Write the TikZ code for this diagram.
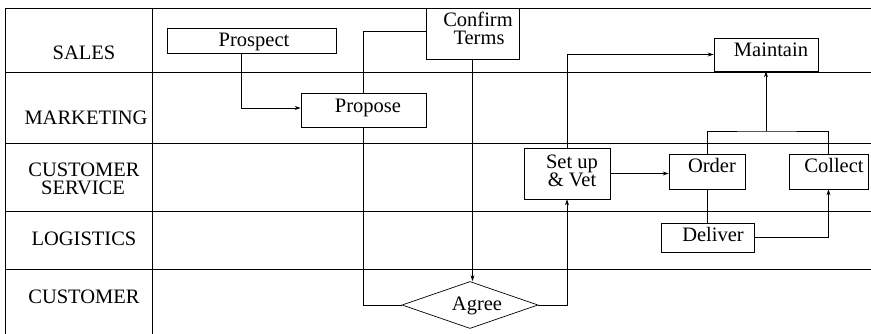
\documentclass[tikz,border=0pt]{standalone}
\usepackage{fontspec}
\setmainfont{Liberation Serif}
\usetikzlibrary{arrows.meta,shapes.geometric}
\tikzset{
  lane/.style={line width=0.9pt},
  box/.style={draw, line width=0.7pt, inner sep=0pt},
  txt/.style={anchor=base, inner sep=0pt, font=\fontsize{20.5pt}{17pt}\selectfont},
  conn/.style={line width=0.7pt},
  arr/.style={line width=0.7pt, -{Stealth[length=6pt,width=4pt]}}
}
\begin{document}
\begin{tikzpicture}[x=1pt,y=-1pt]
\useasboundingbox (0,0) rectangle (871,334);
% swimlanes
\foreach \yy in {8,72,143,211,269} \draw[lane] (5,\yy) -- (871,\yy);
\draw[lane] (5,8) -- (5,334);
\draw[lane] (152,8) -- (152,334);
% lane labels
\node[txt] (lsales) at (84,60) {SALES};
\node[txt] (lmark) at (86,125) {MARKETING};
\node[txt] (lcs1) at (84,177) {CUSTOMER};
\node[txt] (lcs2) at (83,195) {SERVICE};
\node[txt] (llog) at (84,245) {LOGISTICS};
\node[txt] (lcust) at (84,303) {CUSTOMER};
% boxes
\node[box, minimum width=169pt, minimum height=25pt] (prospect) at (251.5,40.5) {};
\node[box, minimum width=125pt, minimum height=34pt] (propose) at (363.5,110) {};
\node[box, minimum width=93pt, minimum height=51pt] (confirm) at (472.5,33.5) {};
\node[box, minimum width=104pt, minimum height=33pt] (maintain) at (766,54.5) {};
\node[box, minimum width=86pt, minimum height=51pt] (setup) at (567,173.5) {};
\node[box, minimum width=76pt, minimum height=35pt] (order) at (707,171.5) {};
\node[box, minimum width=79pt, minimum height=35pt] (collect) at (828.5,171.5) {};
\node[box, minimum width=93pt, minimum height=29pt] (deliver) at (707.5,237.5) {};
\node[box, diamond, minimum width=136pt, minimum height=47pt] (agree) at (470,305) {};
% box texts
\node[txt] (tprospect) at (254,47) {Prospect};
\node[txt] (tpropose) at (368,113) {Propose};
\node[txt] (tconfirm1) at (478,27) {Confirm};
\node[txt] (tconfirm2) at (479,45) {Terms};
\node[txt] (tmaintain) at (771,57) {Maintain};
\node[txt] (tsetup1) at (572,169) {Set up};
\node[txt] (tsetup2) at (572,186) {\& Vet};
\node[txt] (torder) at (712,173) {Order};
\node[txt] (tcollect) at (834,173) {Collect};
\node[txt] (tdeliver) at (713,242) {Deliver};
\node[txt] (tagree) at (477,310) {Agree};
% helper coordinates
\coordinate (p1) at (241,108);
\coordinate (c2) at (363,31);
\coordinate (j) at (766,131);
% connectors
\draw[arr] (prospect.south -| p1) -- (p1) -- (propose.west |- p1);
\draw[conn] (propose.north) |- (confirm.west |- c2);
\draw[conn] (propose.south) |- (agree.west);
\draw[arr] (confirm.south) -- (confirm.south |- agree.north);
\draw[arr] (agree.east) -| (setup.south);
\draw[arr] (setup.north) |- (maintain.west);
\draw[arr] (setup.east) -- (order.west |- setup.east);
\draw[conn] (order.north) |- (j) -| (collect.north);
\draw[arr] (j) -- (maintain.south);
\draw[conn] (order.south) -- (deliver.north -| order.south);
\draw[arr] (deliver.east) -| (collect.south);
\end{tikzpicture}
\end{document}
